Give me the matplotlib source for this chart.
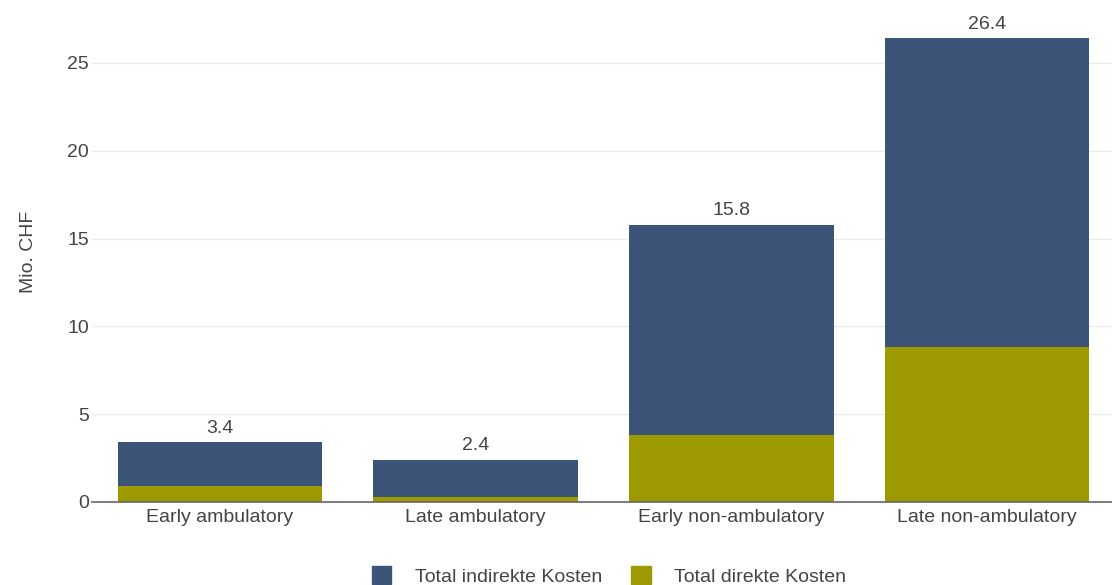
import matplotlib.pyplot as plt
from matplotlib.patches import Patch
import numpy as np

categories = ['Early ambulatory', 'Late ambulatory', 'Early non-ambulatory', 'Late non-ambulatory']
direkt = [0.9, 0.3, 3.8, 8.8]
totals = [3.4, 2.4, 15.8, 26.4]
indirekt = [t - d for t, d in zip(totals, direkt)]

navy = '#3B5478'
olive = '#9C9A00'
text_col = '#444444'

plt.rcParams['font.family'] = ['Liberation Sans', 'DejaVu Sans']

fig = plt.figure(figsize=(11.12, 5.85), dpi=100)
W, H = 1112, 585
ax = fig.add_axes([92 / W, 1 - 502 / H, (1112 - 92) / W, (502 - 2) / H])

x = np.arange(len(categories))
ax.bar(x, direkt, 0.8, color=olive, zorder=2)
ax.bar(x, indirekt, 0.8, bottom=direkt, color=navy, zorder=2)

for xi, t in zip(x, totals):
    ax.annotate(f'{t:.1f}', (xi, t), xytext=(0, 4), textcoords='offset points',
                ha='center', va='bottom', fontsize=14, color=text_col)

ax.set_xlim(-0.5, 3.5 - 3 / 256)
ax.set_ylim(0, 28.47)
ax.set_yticks([0, 5, 10, 15, 20, 25])
ax.set_xticks(x)
ax.set_xticklabels(categories)
ax.tick_params(axis='both', labelsize=14, colors=text_col, length=0, pad=5)
ax.tick_params(axis='y', pad=2)
ax.yaxis.grid(True, color='#EBEBEB', linewidth=1, zorder=0)
for s in ['top', 'right', 'left']:
    ax.spines[s].set_visible(False)
ax.spines['bottom'].set_color('#666666')
ax.spines['bottom'].set_linewidth(1.2)
ax.spines['bottom'].set_zorder(3)
ax.set_ylabel('Mio. CHF', fontsize=14, color=text_col)
ax.yaxis.set_label_coords(-0.054, 0.5)

handles = [Patch(color=navy, label='Total indirekte Kosten'),
           Patch(color=olive, label='Total direkte Kosten')]
fig.legend(handles=handles, loc='center', bbox_to_anchor=(609 / W, 1 - 576 / H),
           ncol=2, frameon=False, fontsize=14, handlelength=1.0, handleheight=1.0,
           handletextpad=1.2, columnspacing=1.5, labelcolor=text_col)

fig.savefig('out.png', dpi=100)
